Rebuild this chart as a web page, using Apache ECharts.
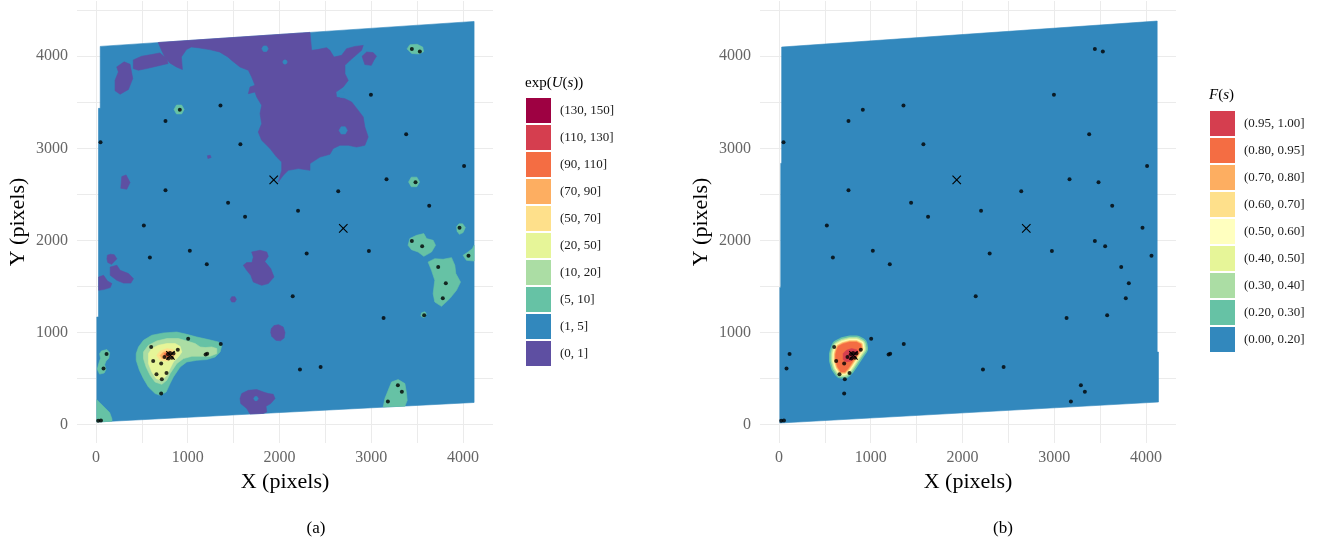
<!DOCTYPE html>
<html><head><meta charset="utf-8">
<script src="https://cdn.jsdelivr.net/npm/echarts@6/dist/echarts.min.js"></script>
<style>html,body{margin:0;padding:0;background:#fff}#c{width:1323px;height:546px}</style>
</head><body><div id="c"></div>
<script>
// ---------- data ----------
const pointX = [50,758,914,1357,1574,2996,3442,3529,3380,4011,758,2640,3166,3482,1440,2202,1625,3631,522,3961,3442,3554,4059,1023,588,1208,2296,2974,3729,3812,3779,2144,3134,3576,1005,1360,1195,1212,116,83,2223,2448,3290,3333,3181,711,25,55,602,624,711,660,718,769,892,784,808,845,827,791,747];
const pointY = [3065,3296,3419,3466,3043,3581,4079,4051,3152,2809,2545,2534,2664,2632,2408,2321,2256,2376,2163,2138,1993,1938,1833,1888,1815,1742,1859,1884,1710,1535,1372,1394,1158,1187,933,875,760,770,766,610,599,624,428,356,250,338,42,45,842,690,662,546,492,560,813,763,777,771,727,717,734];
const crossX = [1937,2695,812];
const crossY = [2657,2131,752];

const levelsA = ['(130, 150]','(110, 130]','(90, 110]','(70, 90]','(50, 70]','(20, 50]','(10, 20]','(5, 10]','(1, 5]','(0, 1]'];
const colorsA = ['#9e0142','#d53e4f','#f46d43','#fdae61','#fee08b','#e6f598','#abdda4','#66c2a5','#3288bd','#5e4fa2'];
const levelsB = ['(0.95, 1.00]','(0.80, 0.95]','(0.70, 0.80]','(0.60, 0.70]','(0.50, 0.60]','(0.40, 0.50]','(0.30, 0.40]','(0.20, 0.30]','(0.00, 0.20]'];
const colorsB = ['#d53e4f','#f46d43','#fdae61','#fee08b','#ffffbf','#e6f598','#abdda4','#66c2a5','#3288bd'];

// panel (a) contour regions (data coordinates)
const domainA = [[[10,28],[4120,240],[4120,4378],[47,4107],[47,3434],[28,3434],[28,1168],[10,1168]]];
const purpleA = [
 [[679,4149],[1200,4184],[1700,4217],[2332,4259],[2350,4064],[2411,4072],[2514,4093],[2549,4064],[2593,3991],[2677,4010],[2731,4082],[2822,4107],[2912,4118],[2894,4064],[2832,4010],[2767,3955],[2713,3901],[2713,3811],[2749,3738],[2694,3666],[2615,3611],[2622,3557],[2713,3539],[2786,3503],[2858,3412],[2912,3340],[2930,3231],[2966,3123],[2930,3033],[2840,3014],[2749,3033],[2658,3033],[2585,2997],[2549,2935],[2441,2905],[2332,2834],[2332,2761],[2205,2780],[2096,2761],[2041,2707],[1987,2634],[2024,2761],[2024,2851],[1969,2905],[1897,2997],[1806,3087],[1769,3177],[1806,3268],[1788,3377],[1806,3467],[1752,3557],[1733,3611],[1661,3594],[1679,3666],[1733,3684],[1697,3774],[1661,3847],[1570,3883],[1480,3955],[1437,3993],[1347,4047],[1238,4072],[1130,4090],[1040,4101],[986,4072],[931,3993],[942,3856],[877,3884],[805,3928],[751,3993],[715,4065]],
 [[408,3960],[498,4000],[606,4018],[697,4036],[769,3975],[787,3921],[661,3892],[552,3866],[462,3848],[408,3866]],
 [[227,3884],[307,3939],[372,3913],[401,3758],[354,3639],[264,3588],[209,3625],[209,3740],[245,3830]],
 [[2900,4000],[2950,4046],[3020,4040],[3057,4000],[3030,3960],[3000,3901],[2930,3910]],
 [[282,2693],[329,2711],[372,2628],[336,2556],[271,2567]],
 [[1215,2920],[1245,2925],[1255,2900],[1220,2890]],
 [[30,1603],[83,1621],[126,1559],[174,1531],[156,1488],[83,1466],[30,1458]],
 [[125,1840],[160,1850],[200,1845],[228,1800],[200,1770],[170,1740],[130,1760],[120,1800]],
 [[156,1711],[228,1730],[264,1675],[355,1640],[409,1585],[381,1537],[300,1537],[228,1567],[156,1621]],
 [[1697,1874],[1788,1893],[1861,1874],[1878,1827],[1840,1770],[1904,1694],[1940,1603],[1878,1531],[1806,1512],[1715,1548],[1687,1621],[1643,1675],[1606,1730],[1643,1760],[1700,1760],[1715,1820]],
 [[1530,1360],[1514,1389],[1480,1389],[1464,1360],[1480,1331],[1514,1331]],
 [[1910,1040],[1940,1075],[1990,1085],[2040,1060],[2060,1000],[2050,940],[2010,910],[1960,915],[1915,960],[1905,1000]],
 [[1589,337],[1661,372],[1752,380],[1824,354],[1878,337],[1932,329],[1951,282],[1904,228],[1853,199],[1861,137],[1824,121],[1752,118],[1679,115],[1643,174],[1578,228],[1570,282]]
];
const holesA = [
 [[1769,282],[1756,304],[1732,304],[1719,282],[1732,260],[1756,260]],
 [[1877,4082],[1860,4112],[1825,4112],[1807,4082],[1825,4052],[1860,4052]],
 [[2712,3586],[2695,3616],[2660,3616],[2642,3586],[2660,3556],[2695,3556]],
 [[2739,3195],[2717,3234],[2672,3234],[2649,3195],[2672,3156],[2717,3156]],
 [[2085,3937],[2072,3959],[2048,3959],[2035,3937],[2048,3915],[2072,3915]]
];
const greenA = [
 [[3390,4080],[3420,4125],[3500,4130],[3560,4100],[3570,4050],[3520,4025],[3440,4030]],
 [[961,3422],[934,3470],[878,3470],[851,3422],[878,3374],[934,3374]],
 [[3526,2635],[3496,2687],[3436,2687],[3406,2635],[3436,2583],[3496,2583]],
 [[3930,2150],[3955,2180],[3995,2180],[4025,2140],[4000,2085],[3960,2066],[3935,2100]],
 [[3420,2020],[3493,2055],[3572,2074],[3602,2020],[3674,2001],[3700,1947],[3656,1874],[3572,1827],[3510,1874],[3438,1900],[3401,1947]],
 [[3619,1765],[3692,1802],[3782,1795],[3874,1813],[3910,1730],[3921,1640],[3972,1548],[3928,1458],[3855,1368],[3765,1284],[3692,1331],[3674,1422],[3692,1567],[3656,1675]],
 [[4000,1838],[4054,1874],[4102,1911],[4120,1947],[4120,1776],[4037,1784]],
 [[3600,1200],[3585,1225],[3550,1215],[3540,1180],[3575,1160]],
 [[3221,463],[3293,489],[3366,445],[3384,337],[3391,264],[3366,200],[3130,192],[3148,282],[3184,372]],
 [[60,800],[120,815],[150,780],[140,720],[110,690],[95,650],[110,600],[90,560],[40,548],[15,600],[30,660],[50,720],[40,770]],
 [[10,270],[40,240],[100,180],[150,130],[175,60],[175,37],[10,28]],
 [[464,843],[518,915],[609,970],[736,995],[881,1005],[990,980],[1099,951],[1225,923],[1334,897],[1371,861],[1353,788],[1298,734],[1208,706],[1099,698],[990,680],[917,625],[844,517],[808,445],[765,354],[700,318],[645,337],[572,408],[518,499],[474,590],[439,698],[439,771]]
];
const lightGreenA = [[[518,788],[572,861],[663,908],[773,934],[899,934],[990,908],[1081,880],[1135,843],[1190,836],[1262,843],[1317,825],[1317,771],[1244,742],[1135,742],[1045,742],[954,717],[881,662],[808,554],[772,481],[718,437],[645,462],[591,535],[547,625],[518,717]]];
const yellowGreenA = [[[572,771],[609,825],[681,861],[773,880],[863,880],[917,850],[936,788],[899,734],[844,680],[808,608],[773,535],[718,481],[656,499],[609,571],[572,662]]];
const paleYellowA = [[[663,752],[700,799],[773,825],[844,814],[874,771],[844,717],[773,691],[700,698]]];
const orangeA = [[[700,752],[736,788],[801,799],[844,777],[838,734],[773,717],[718,717]]];
const redOrangeA = [[[743,771],[790,788],[827,763],[801,734],[754,734]]];

// panel (b)
const domainB = [[[10,17],[4135,245],[4135,788],[4121,788],[4121,4382],[30,4100],[30,2837],[20,2837],[20,1490],[10,1490]]];
const coreB = [[[628,807],[645,850],[700,879],[773,897],[846,897],[893,872],[901,825],[863,771],[827,717],[791,662],[754,608],[718,571],[675,571],[639,625],[617,698],[617,763]]];
const redB = [[[700,771],[736,807],[791,825],[846,814],[863,788],[827,734],[784,691],[736,680],[700,706]]];

// ---------- chart ----------
const FONT = 'Liberation Serif';
function polySeries(name, polys, color, g, stroke) {
  return {
    type: 'custom', name: name, xAxisIndex: g, yAxisIndex: g,
    coordinateSystem: 'cartesian2d', silent: true, animation: false,
    itemStyle: {color: color},
    data: polys.map(p => p[0]),
    renderItem: function (params, api) {
      const pts = polys[params.dataIndex].map(v => api.coord(v));
      const style = stroke
        ? {fill: null, stroke: color, lineWidth: stroke, lineJoin: 'round'}
        : {fill: color, stroke: color, lineWidth: 0.6};
      return {type: 'polygon', shape: {points: pts}, style: style};
    }
  };
}
function xAx(g, left) {
  return {
    gridIndex: g, type: 'value', min: -206, max: 4326, minInterval: 500, maxInterval: 500, splitNumber: 9,
    axisLine: {show: false}, axisTick: {show: false},
    axisLabel: {color: '#666', fontFamily: FONT, fontSize: 16, margin: 7, showMinLabel: false, showMaxLabel: false,
      formatter: v => (v % 1000 === 0 ? String(v) : '')},
    splitLine: {show: true, showMinLine: false, showMaxLine: false, lineStyle: {color: '#ebebeb', width: 1}},
    name: 'X (pixels)', nameLocation: 'middle', nameGap: 24,
    nameTextStyle: {fontFamily: FONT, fontSize: 22, color: '#000'}
  };
}
function yAx(g) {
  return {
    gridIndex: g, type: 'value', min: -200, max: 4600, minInterval: 500, maxInterval: 500, splitNumber: 10,
    axisLine: {show: false}, axisTick: {show: false},
    axisLabel: {color: '#666', fontFamily: FONT, fontSize: 16, margin: 9, showMinLabel: false, showMaxLabel: false,
      formatter: v => (v % 1000 === 0 ? String(v) : '')},
    splitLine: {show: true, showMinLine: false, showMaxLine: false, lineStyle: {color: '#ebebeb', width: 1}},
    name: 'Y (pixels)', nameLocation: 'middle', nameGap: 48,
    nameTextStyle: {fontFamily: FONT, fontSize: 22, color: '#000'}
  };
}
function pointSeries(g) {
  return {type: 'scatter', xAxisIndex: g, yAxisIndex: g, symbol: 'circle', symbolSize: 4, silent: true,
    animation: false, itemStyle: {color: '#000'}, z: 5,
    data: pointX.map((x, i) => [x, pointY[i]])};
}
function crossSeries(g) {
  return {type: 'custom', xAxisIndex: g, yAxisIndex: g, silent: true, animation: false, z: 6,
    data: crossX.map((x, i) => [x, crossY[i]]),
    renderItem: function (params, api) {
      const c = api.coord([api.value(0), api.value(1)]);
      const s = 4.2;
      return {type: 'group', children: [
        {type: 'line', shape: {x1: c[0]-s, y1: c[1]-s, x2: c[0]+s, y2: c[1]+s}, style: {stroke: '#000', lineWidth: 1.1}},
        {type: 'line', shape: {x1: c[0]-s, y1: c[1]+s, x2: c[0]+s, y2: c[1]-s}, style: {stroke: '#000', lineWidth: 1.1}}
      ]};
    }};
}
const cA = n => colorsA[levelsA.indexOf(n)];
const cB = n => colorsB[levelsB.indexOf(n)];

const series = [
  polySeries('(1, 5]', domainA, cA('(1, 5]'), 0),
  polySeries('(0, 1]', purpleA, cA('(0, 1]'), 0),
  polySeries('', holesA, cA('(1, 5]'), 0),
  polySeries('(5, 10]', greenA, cA('(5, 10]'), 0),
  polySeries('(10, 20]', lightGreenA, cA('(10, 20]'), 0),
  polySeries('(20, 50]', yellowGreenA, cA('(20, 50]'), 0),
  polySeries('(50, 70]', paleYellowA, cA('(50, 70]'), 0),
  polySeries('(70, 90]', orangeA, cA('(70, 90]'), 0),
  polySeries('(90, 110]', redOrangeA, cA('(90, 110]'), 0),
  polySeries('(110, 130]', [], cA('(110, 130]'), 0),
  polySeries('(130, 150]', [], cA('(130, 150]'), 0),
  pointSeries(0), crossSeries(0),
  polySeries('(0.00, 0.20]', domainB, cB('(0.00, 0.20]'), 1),
  polySeries('(0.20, 0.30]', coreB, cB('(0.20, 0.30]'), 1, 13),
  polySeries('(0.30, 0.40]', coreB, cB('(0.30, 0.40]'), 1, 10),
  polySeries('(0.40, 0.50]', coreB, cB('(0.40, 0.50]'), 1, 7.5),
  polySeries('(0.50, 0.60]', coreB, cB('(0.50, 0.60]'), 1, 5.5),
  polySeries('(0.60, 0.70]', coreB, cB('(0.60, 0.70]'), 1, 4),
  polySeries('(0.70, 0.80]', coreB, cB('(0.70, 0.80]'), 1, 2.5),
  polySeries('(0.80, 0.95]', coreB, cB('(0.80, 0.95]'), 1),
  polySeries('(0.95, 1.00]', redB, cB('(0.95, 1.00]'), 1),
  pointSeries(1), crossSeries(1)
];

const legendCommon = {orient: 'vertical', icon: 'rect', itemWidth: 25, itemHeight: 25, itemGap: 2, padding: 0,
  selectedMode: false, textStyle: {fontFamily: FONT, fontSize: 13, color: '#1a1a1a', padding: [0, 0, 0, 4]}};

const chart = echarts.init(document.getElementById('c'), null, {renderer: 'canvas'});
chart.setOption({
  animation: false,
  grid: [
    {left: 77, top: 1, width: 416, height: 442},
    {left: 760, top: 1, width: 416, height: 442}
  ],
  xAxis: [xAx(0), xAx(1)],
  yAxis: [yAx(0), yAx(1)],
  legend: [
    Object.assign({left: 526, top: 98, data: levelsA}, legendCommon),
    Object.assign({left: 1210, top: 111, data: levelsB}, legendCommon)
  ],
  graphic: [
    {type: 'text', left: 525, top: 76, silent: true, style: {
      text: '{n|exp(}{i|U}{n|(}{i|s}{n|))}', fill: '#000',
      rich: {n: {fontFamily: FONT, fontSize: 15, fill: '#000'}, i: {fontFamily: FONT, fontSize: 15, fontStyle: 'italic', fill: '#000'}}}},
    {type: 'text', left: 1209, top: 88, silent: true, style: {
      text: '{i|F}{n|(}{i|s}{n|)}', fill: '#000',
      rich: {n: {fontFamily: FONT, fontSize: 15, fill: '#000'}, i: {fontFamily: FONT, fontSize: 15, fontStyle: 'italic', fill: '#000'}}}},
    {type: 'text', x: 316, y: 529, silent: true, style: {text: '(a)', fontFamily: FONT, fontSize: 17, fill: '#000', align: 'center', verticalAlign: 'middle'}},
    {type: 'text', x: 1003, y: 529, silent: true, style: {text: '(b)', fontFamily: FONT, fontSize: 17, fill: '#000', align: 'center', verticalAlign: 'middle'}}
  ],
  series: series
});
</script></body></html>
